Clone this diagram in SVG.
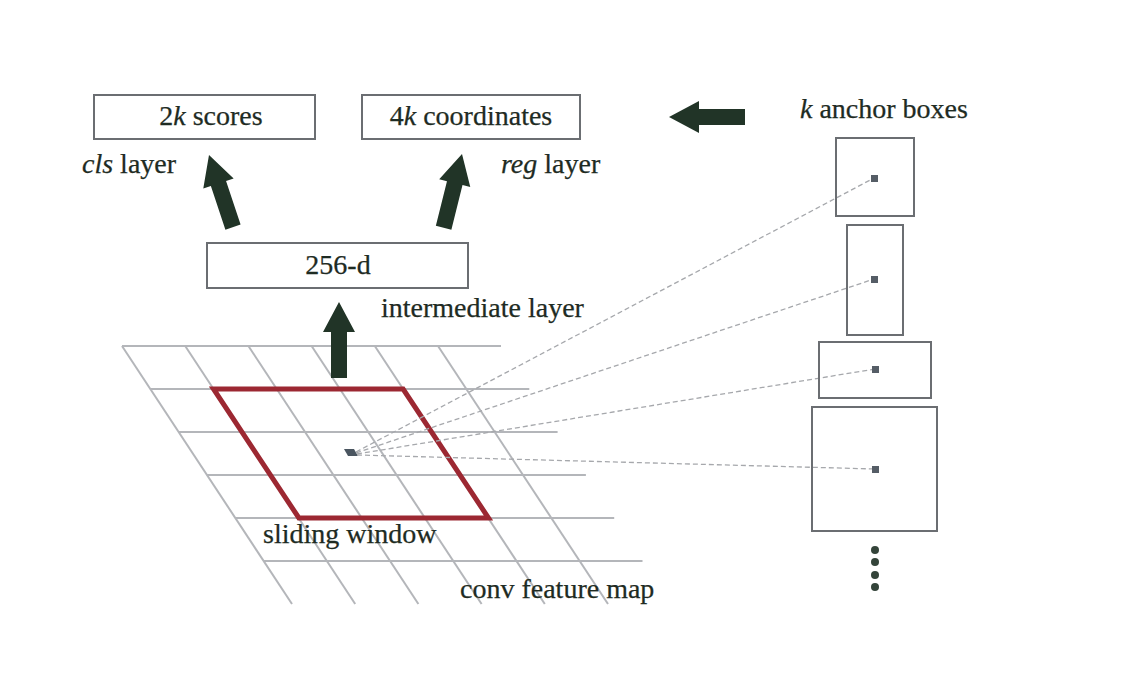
<svg xmlns="http://www.w3.org/2000/svg" width="1138" height="700" viewBox="0 0 1138 700">
<style>
.box{fill:#fff;stroke:#6b6e72;stroke-width:2}
.abox{fill:none;stroke:#6b6e72;stroke-width:2}
.t{font-family:"Liberation Serif","Times New Roman",serif;font-size:28px;fill:#1e2b23;stroke:#1e2b23;stroke-width:0.25}
.grid{stroke:#b4b6ba;stroke-width:2;fill:none}
.dash{stroke:#a6a8ac;stroke-width:1.3;stroke-dasharray:5 3;fill:none}
.arw{fill:#213427}
.ctr{fill:#555d66}
</style>
<defs>
<path id="arrow" d="M0,0 L16,30 L8,30 L8,76 L-8,76 L-8,30 L-16,30 Z"/>
</defs>
<rect width="1138" height="700" fill="#fff"/>

<g id="feature-map">
<g class="grid">
<line x1="122" y1="346" x2="501" y2="346"/>
<line x1="150.3" y1="389" x2="529.3" y2="389"/>
<line x1="178.6" y1="432" x2="557.6" y2="432"/>
<line x1="206.9" y1="475" x2="585.9" y2="475"/>
<line x1="235.2" y1="518" x2="614.2" y2="518"/>
<line x1="263.5" y1="561" x2="642.5" y2="561"/>
<line x1="122" y1="346" x2="292" y2="604"/>
<line x1="185.2" y1="346" x2="355.2" y2="604"/>
<line x1="248.4" y1="346" x2="418.4" y2="604"/>
<line x1="311.6" y1="346" x2="481.6" y2="604"/>
<line x1="374.8" y1="346" x2="544.8" y2="604"/>
<line x1="438" y1="346" x2="608" y2="604"/>
</g>
<text class="t" x="460" y="598">conv feature map</text>
</g>

<g id="sliding-window">
<polygon points="213.5,389 403.1,389 488.5,518 298.9,518" fill="none" stroke="#9c2832" stroke-width="5" stroke-linejoin="miter"/>
<polygon points="344,449 354,449 358,456 348,456" fill="#4a5560"/>
<text class="t" x="263" y="543">sliding window</text>
</g>

<g id="connectors">
<g class="dash">
<line x1="356" y1="452" x2="874" y2="178"/>
<line x1="356" y1="453" x2="874" y2="279"/>
<line x1="357" y1="454" x2="875" y2="369"/>
<line x1="357" y1="455" x2="875" y2="469"/>
</g>
<use href="#arrow" class="arw" transform="translate(209,155) rotate(-18.4)"/>
<use href="#arrow" class="arw" transform="translate(462,154) rotate(14)"/>
<use href="#arrow" class="arw" transform="translate(339,302)"/>
<use href="#arrow" class="arw" transform="translate(669,117) rotate(-90)"/>
</g>

<g id="cls-box">
<rect class="box" x="94" y="95" width="221" height="44"/>
<text class="t" x="211" y="125" text-anchor="middle">2<tspan font-style="italic">k</tspan> scores</text>
<text class="t" x="82" y="173"><tspan font-style="italic">cls</tspan> layer</text>
</g>

<g id="reg-box">
<rect class="box" x="362" y="95" width="218" height="44"/>
<text class="t" x="471" y="125" text-anchor="middle">4<tspan font-style="italic">k</tspan> coordinates</text>
<text class="t" x="501" y="173"><tspan font-style="italic">reg</tspan> layer</text>
</g>

<g id="intermediate-box">
<rect class="box" x="207" y="243" width="261" height="45"/>
<text class="t" x="338" y="274" text-anchor="middle">256-d</text>
<text class="t" x="381" y="317">intermediate layer</text>
</g>

<g id="anchor-boxes">
<text class="t" x="800" y="118"><tspan font-style="italic">k</tspan> anchor boxes</text>
<rect class="abox" x="836" y="138" width="78" height="78"/>
<rect class="abox" x="847" y="225" width="56" height="110"/>
<rect class="abox" x="819" y="342" width="112" height="56"/>
<rect class="abox" x="812" y="407" width="125" height="124"/>
<rect class="ctr" x="871" y="175" width="7" height="7"/>
<rect class="ctr" x="871" y="276" width="7" height="7"/>
<rect class="ctr" x="872" y="366" width="7" height="7"/>
<rect class="ctr" x="872" y="466" width="7" height="7"/>
<g fill="#34443a">
<circle cx="875" cy="550" r="4"/>
<circle cx="875" cy="562" r="4"/>
<circle cx="875" cy="575" r="4"/>
<circle cx="875" cy="587" r="4"/>
</g>
</g>
</svg>
